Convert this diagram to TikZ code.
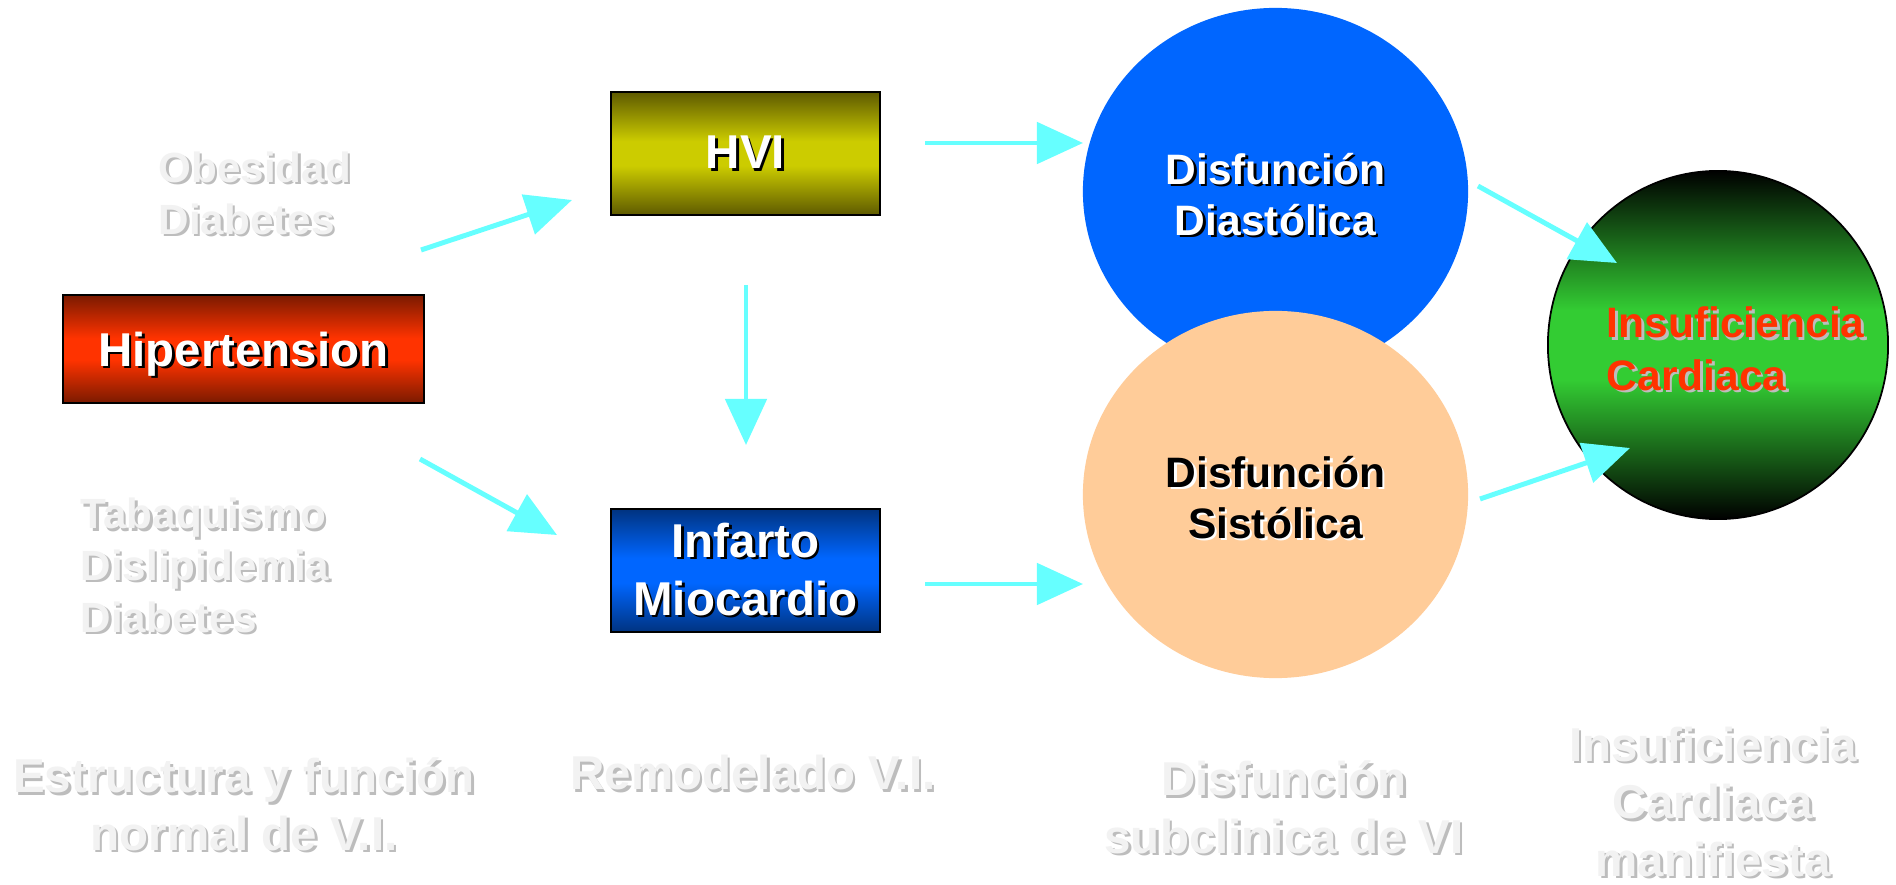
\documentclass[tikz,border=0pt]{standalone}
\usepackage{fontspec}
\setmainfont{Liberation Sans}
\usetikzlibrary{arrows.meta,shapes.geometric}
\definecolor{hipOsc}{HTML}{7A1A00}
\definecolor{hipCla}{HTML}{FF3300}
\definecolor{hviOsc}{HTML}{5E5A00}
\definecolor{hviCla}{HTML}{CCCC00}
\definecolor{infOsc}{HTML}{003380}
\definecolor{infCla}{HTML}{0066FF}
\definecolor{icOsc}{HTML}{000000}
\definecolor{icCla}{HTML}{33CC33}
\definecolor{azulclaro}{HTML}{0066FF}
\definecolor{melocoton}{HTML}{FFCC99}
\definecolor{cian}{HTML}{66FFFF}
\definecolor{rojotxt}{HTML}{FF3300}
\definecolor{claro}{HTML}{F2F2F2}
\definecolor{gris}{HTML}{BDBDBD}
\pgfdeclareverticalshading{rojo}{100bp}{color(0bp)=(hipOsc); color(25bp)=(hipOsc); color(45bp)=(hipCla); color(55bp)=(hipCla); color(75bp)=(hipOsc); color(100bp)=(hipOsc)}
\pgfdeclareverticalshading{oliva}{100bp}{color(0bp)=(hviOsc); color(25bp)=(hviOsc); color(45bp)=(hviCla); color(55bp)=(hviCla); color(75bp)=(hviOsc); color(100bp)=(hviOsc)}
\pgfdeclareverticalshading{azul}{100bp}{color(0bp)=(infOsc); color(25bp)=(infOsc); color(45bp)=(infCla); color(55bp)=(infCla); color(75bp)=(infOsc); color(100bp)=(infOsc)}
\pgfdeclareverticalshading{verde}{100bp}{color(0bp)=(icOsc); color(25bp)=(icOsc); color(45bp)=(icCla); color(55bp)=(icCla); color(75bp)=(icOsc); color(100bp)=(icOsc)}
\newcommand{\sombra}[2]{\makebox[0pt][l]{\kern0.7pt\raisebox{-0.7pt}{\textcolor{#1}{#2}}}#2}
\tikzset{
  caja/.style={draw=black, line width=0.75pt, shade, inner sep=0pt, text=white, align=center,
    font=\fontsize{13.5}{16.5}\selectfont\bfseries},
  circulo/.style={ellipse, minimum width=3.85cm, minimum height=3.67cm, inner sep=0pt, align=center,
    text height=25.8pt, font=\fontsize{12.1}{14.5}\selectfont\bfseries},
  etiqueta/.style={text=claro, inner sep=0pt, align=left, anchor=west,
    font=\fontsize{12}{14.7}\selectfont\bfseries},
  fase/.style={text=claro, inner sep=0pt, align=center,
    font=\fontsize{13.5}{16.3}\selectfont\bfseries},
  flecha/.style={draw=cian, line width=1.4pt, -{Triangle[length=4.6mm,width=4.1mm]}}
}
\begin{document}
\begin{tikzpicture}[x=0.01cm, y=-0.01cm]
	\fill[white] (0,0) rectangle (1896,885);
	\node[caja, shading=rojo, minimum width=3.61cm, minimum height=1.08cm, text height=9.7pt, text depth=0pt] (hip) at (243.5,349) {\sombra{black}{Hipertension}};
	\node[caja, shading=oliva, minimum width=2.69cm, minimum height=1.23cm] (hvi) at (745.5,153.5) {\sombra{black}{HVI}};
	\node[caja, shading=azul, minimum width=2.69cm, minimum height=1.23cm] (inf) at (745.5,570.5) {\sombra{black}{Infarto}\\\sombra{black}{Miocardio}};
	\node[circulo, fill=azulclaro, text=white] (dd) at (1275.5,191.5) {\sombra{black}{Disfunción}\\\sombra{black}{Diastólica}};
	\node[circulo, fill=melocoton, text=black] (ds) at (1275.5,494.5) {\sombra{white}{Disfunción}\\\sombra{white}{Sistólica}};
	\node[ellipse, draw=black, line width=0.5pt, shade, shading=verde, minimum width=3.40cm, minimum height=3.48cm, inner sep=0pt] (ic) at (1718,345) {};
	\node[etiqueta, text=rojotxt, font=\fontsize{12.1}{14.8}\selectfont\bfseries] (icTxt) at (1606,350) {\sombra{gris}{Insuficiencia}\\\sombra{gris}{Cardiaca}};
	\node[etiqueta] (fr1) at (158,194.5) {\sombra{gris}{Obesidad}\\\sombra{gris}{Diabetes}};
	\node[etiqueta] (fr2) at (80,566.5) {\sombra{gris}{Tabaquismo}\\\sombra{gris}{Dislipidemia}\\\sombra{gris}{Diabetes}};
	\node[fase] (f1) at (244,805.5) {\sombra{gris}{Estructura y función}\\\sombra{gris}{normal de V.I.}};
	\node[fase] (f2) at (753,774) {\sombra{gris}{Remodelado V.I.}};
	\node[fase] (f3) at (1284,808.5) {\sombra{gris}{Disfunción}\\\sombra{gris}{subclinica de VI}};
	\node[fase] (f4) at (1713,803) {\sombra{gris}{Insuficiencia}\\\sombra{gris}{Cardiaca}\\\sombra{gris}{manifiesta}};
	\coordinate (hipA) at (421,250);
	\coordinate (hviA) at (572,200);
	\coordinate (hipB) at (420,459);
	\coordinate (infA) at (557,535);
	\coordinate (hviB) at (746,285);
	\coordinate (infB) at (746,445);
	\coordinate (hviC) at (925,143);
	\coordinate (ddA) at (1083,143);
	\coordinate (infC) at (925,584);
	\coordinate (dsA) at (1083,584);
	\coordinate (ddB) at (1478,186);
	\coordinate (icA) at (1617,263);
	\coordinate (dsB) at (1480,499);
	\coordinate (icB) at (1630,448);
	\draw[flecha] (hipA) -- (hviA);
	\draw[flecha] (hipB) -- (infA);
	\draw[flecha] (hviB) -- (infB);
	\draw[flecha] (hviC) -- (ddA);
	\draw[flecha] (infC) -- (dsA);
	\draw[flecha] (ddB) -- (icA);
	\draw[flecha] (dsB) -- (icB);
\end{tikzpicture}
\end{document}
